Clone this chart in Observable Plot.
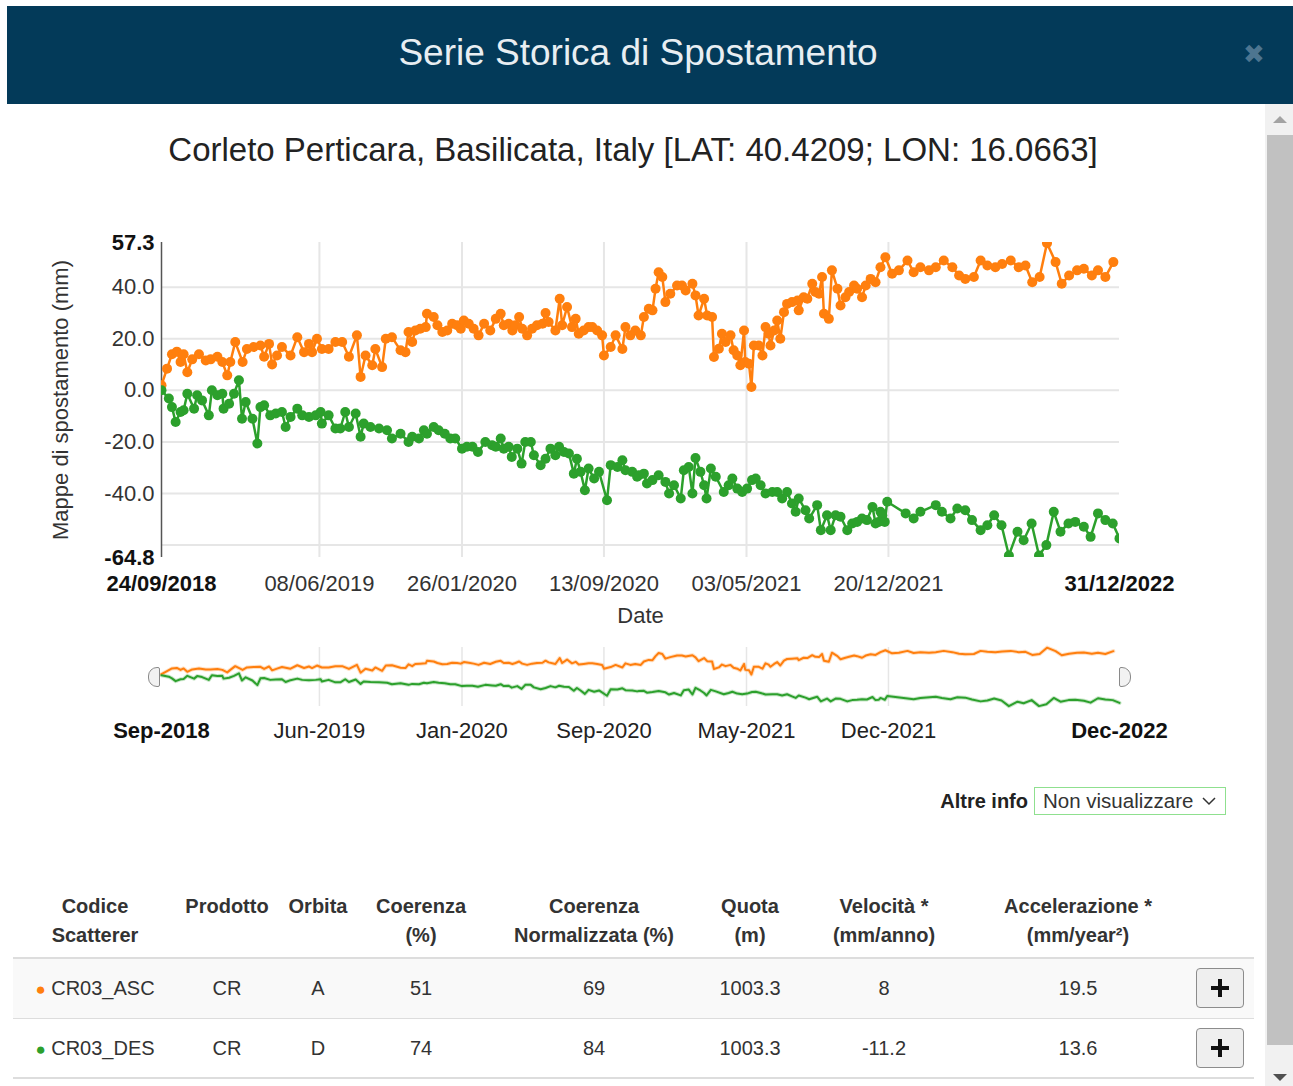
<!DOCTYPE html>
<html lang="it">
<head>
<meta charset="utf-8">
<script src="https://cdn.jsdelivr.net/npm/d3@7"></script>
<script src="https://cdn.jsdelivr.net/npm/@observablehq/plot@0.6"></script>
<style>
html,body{margin:0;padding:0;background:#fff;}
body{width:1293px;height:1086px;overflow:hidden;position:relative;font-family:"Liberation Sans",Arial,Helvetica,sans-serif;color:#333;}
.abs{position:absolute;}
#hdr{left:7px;top:6px;width:1286px;height:98px;background:#033a59;}
#hdr .t{position:absolute;left:0;top:0;width:1262px;text-align:center;line-height:94px;font-size:37px;color:#e8eef2;}
#hdr .x{position:absolute;left:1236px;top:33px;font-size:26px;color:#4d7590;font-family:"DejaVu Sans",sans-serif;}
#sub{left:0;top:128px;width:1266px;text-align:center;font-size:33px;color:#222;line-height:44px;}
#chart{left:0;top:200px;}
#nav{left:0;top:640px;}
#sbtrack{left:1265px;top:104px;width:28px;height:982px;background:#f1f1f1;}
#sbthumb{left:1267px;top:135px;width:26px;height:910px;background:#c1c1c1;}
.arrow{width:0;height:0;border-left:7px solid transparent;border-right:7px solid transparent;}
#upA{left:1273px;top:116px;border-bottom:7px solid #a3a3a3;}
#dnA{left:1273px;top:1074px;border-top:7px solid #505050;}
#altre{left:880px;top:787px;width:148px;text-align:right;font-weight:bold;font-size:20px;line-height:28px;color:#222;}
#sel{left:1034px;top:787px;width:190px;height:26px;border:1px solid #8fe08f;font-size:20.5px;line-height:26px;color:#333;}
#sel span{position:absolute;left:8px;top:0;white-space:nowrap;}
#sel svg{position:absolute;left:167px;top:9px;}
.th{font-weight:bold;font-size:20px;line-height:29px;color:#333;text-align:center;}
.td{font-size:20px;line-height:30px;color:#333;text-align:center;}
.rowbg{left:13px;width:1241px;}
.btn{left:1196px;width:46px;height:38px;border:1px solid #8c8c8c;border-radius:4px;background:#efefef;}
.btn .h{position:absolute;left:14px;top:17px;width:18px;height:4px;background:#111;}
.btn .v{position:absolute;left:21px;top:10px;width:4px;height:18px;background:#111;}
.handle{width:10px;height:18px;border:1px solid #8a8a8a;background:#f2f2f2;}
</style>
</head>
<body>
<div id="hdr" class="abs"><div class="t">Serie Storica di Spostamento</div><div class="x">✖</div></div>
<div id="sub" class="abs">Corleto Perticara, Basilicata, Italy [LAT: 40.4209; LON: 16.0663]</div>
<div id="chart" class="abs"></div>
<div id="nav" class="abs"></div>
<div id="hl" class="abs handle" style="left:148px;top:667px;border-radius:9px 2px 2px 9px;"></div>
<div id="hr" class="abs handle" style="left:1119px;top:667px;border-radius:2px 9px 9px 2px;"></div>
<div id="altre" class="abs">Altre info</div>
<div id="sel" class="abs"><span>Non visualizzare</span><svg width="14" height="9"><path d="M1 1 L7 7 L13 1" fill="none" stroke="#333" stroke-width="1.5"/></svg></div>
<div id="table"></div>
<div id="sbtrack" class="abs"></div>
<div id="sbthumb" class="abs"></div>
<div id="upA" class="abs arrow"></div>
<div id="dnA" class="abs arrow"></div>
<script>
// ---- data (days since 24/09/2018, displacement in mm) ----
const ascDays = [0,9,17,25,31,36,42,50,61,72,80,91,99,107,112,120,132,139,150,161,167,175,180,188,196,210,221,232,240,245,253,261,272,283,294,305,318,324,332,343,348,359,365,375,389,397,402,408,413,421,430,432,443,449,457,465,473,481,487,492,500,508,516,525,535,544,552,557,565,571,576,582,587,595,603,611,620,625,630,641,648,652,660,668,674,679,687,695,701,709,717,720,731,739,750,755,763,771,780,785,793,799,804,809,815,820,828,839,847,853,864,869,874,883,888,896,899,907,912,918,926,931,937,942,948,950,956,960,964,972,978,983,988,991,997,1002,1007,1013,1018,1026,1035,1037,1045,1051,1059,1064,1070,1075,1078,1086,1091,1100,1105,1113,1119,1127,1132,1140,1146,1154,1162,1170,1178,1189,1200,1214,1224,1235,1249,1260,1273,1287,1298,1308,1322,1333,1344,1357,1368,1382,1395,1406,1417,1429,1441,1455,1465,1477,1490,1501,1514,1524,1536,1549];
const ascMm = [2,8.4,14,15,11,14,7,12,14,11.6,12,13,11,5.8,11,18.7,11,16,16.8,17.4,13,18,10,13.5,16.8,13.5,20.6,14.8,18,14.8,20,16,16,18.7,18.7,13,21.3,5.2,13.5,9.7,16,9,20,20.6,15.5,14.8,22.6,18.7,23.2,23.9,24.5,29.7,28.4,25.2,22.6,23.2,25.8,25.2,23.9,27.1,25.8,23.9,21.3,25.8,23.2,27.7,29.7,25.2,25.8,23.2,25.2,28.4,23.9,21.3,23.9,25.2,25.8,30,26.5,23.2,35.5,25.2,32.3,24.5,27.7,21.9,23.2,24.5,24.5,23.2,21.3,13.5,16.8,21.3,16,24.5,21.3,23.2,21.3,28.4,31.6,31,39.4,45.8,43.9,34.2,37.4,40.6,40.6,38.7,41.3,36.8,29,35.5,29,28.4,12.9,16.1,21.9,18.7,21.3,15.5,13.5,9.7,23.2,11,10.3,1.3,17.4,17.4,13.5,24.5,21.9,17.4,23.2,27.1,20,30.3,33.5,34.2,34.8,31,36.1,35.5,41.3,38.1,37.4,43.9,29.7,27.7,46.5,39.4,32.9,36.1,38.1,40.6,39.4,36.1,40.6,43.2,41.9,47.7,51.6,45.2,46.5,50.3,45.8,47.7,46.5,47.7,50.3,47.7,44.5,43.2,43.9,50.3,48.4,47.7,49,50.3,47.7,48.4,41.9,43.9,57,49.7,41.3,44.5,46.5,47.1,44.5,46.5,43.9,49.7];
const desDays = [0,12,17,23,31,36,42,53,58,66,77,82,91,99,101,110,118,126,131,137,148,156,161,167,177,186,196,202,210,221,229,240,251,259,261,272,283,291,299,305,316,324,329,340,354,367,375,389,402,408,419,427,432,443,451,461,470,478,489,497,506,515,527,538,544,552,557,565,570,579,586,592,601,606,617,625,633,641,647,655,663,671,676,682,689,695,704,712,725,731,742,750,755,766,774,777,785,790,799,809,820,826,834,845,850,858,864,869,877,883,887,894,902,915,923,929,937,945,953,961,967,975,983,994,1002,1010,1018,1026,1032,1037,1048,1054,1067,1073,1083,1089,1097,1105,1116,1124,1132,1140,1148,1157,1162,1167,1170,1173,1177,1181,1211,1224,1235,1260,1270,1284,1295,1308,1319,1333,1344,1355,1367,1379,1393,1403,1416,1428,1440,1452,1463,1476,1487,1501,1512,1524,1536,1548,1559];
const desMm = [0,-3.2,-6.5,-12.3,-8.4,-7.7,-1.3,-7.1,-1.9,-3.9,-9.7,0,-1.9,-1.3,-7.1,-5.2,-1.3,3.9,-11,-4.5,-11,-20.6,-6.5,-5.8,-9.7,-9,-8.4,-14.2,-10.3,-7.1,-9.7,-10.3,-9.7,-8.4,-12.9,-9.7,-14.8,-14.8,-8.4,-14.2,-9,-18,-12.9,-14.2,-14.8,-15.5,-18.7,-16.8,-20,-18,-18.7,-15.5,-16.8,-14.2,-15.5,-16.8,-18.7,-18.7,-22.6,-21.9,-21.9,-23.9,-20,-21.3,-21.9,-18.7,-22.6,-21.9,-25.8,-22.6,-28.4,-20,-20,-25.2,-29,-26.5,-22.6,-25.2,-21.9,-23.9,-24.5,-32.3,-26.5,-31.6,-38.7,-30.3,-34.2,-31.6,-42.6,-29,-29.7,-27.1,-31,-31.6,-33.5,-32.9,-32.3,-36.1,-34.8,-32.9,-35.5,-40,-36.8,-41.9,-31,-29.7,-40,-26.2,-31.6,-36.8,-41.9,-30.3,-33.5,-39.4,-36.8,-34.2,-38.1,-39.4,-38.1,-34.8,-34.2,-36.8,-40,-39.4,-39.4,-41.9,-39.4,-43.9,-47.1,-41.9,-46.5,-49.7,-44.5,-54.2,-48.4,-54.2,-48.4,-49,-54.2,-51.6,-51,-49.7,-50.3,-45.2,-51.6,-51,-47.1,-48.4,-51,-43.2,-47.7,-49.7,-47.1,-44.5,-47.1,-49.7,-45.8,-46.5,-50.3,-54.2,-52.3,-48.4,-52.3,-64,-54.8,-58.1,-51.6,-64,-60,-47.1,-54.8,-51.6,-51,-52.9,-56.8,-47.7,-50.3,-51.6,-57.4];

const firstDate = "2018-09-24";
const lastDate = "2022-12-31";
const xTickDates = ["2019-06-08","2020-01-26","2020-09-13","2021-05-03","2021-12-20"];
const yMin = -64.8, yMax = 57.3;
const yTicks = [40,20,0,-20,-40];
const yGrid = [40,20,0,-20,-40,-60];

// table
const tHeaders = [["Codice","Scatterer"],["Prodotto"],["Orbita"],["Coerenza","(%)"],["Coerenza","Normalizzata (%)"],["Quota","(m)"],["Velocità *","(mm/anno)"],["Accelerazione *","(mm/year²)"]];
const codes = ["CR03_ASC","CR03_DES"];
const prodotto = ["CR","CR"];
const orbita = ["A","D"];
const coerenza = ["51","74"];
const coerNorm = ["69","84"];
const quota = ["1003.3","1003.3"];
const velocita = ["8","-11.2"];
const accel = ["19.5","13.6"];
const seriesColors = ["#ff7f0e","#2ca02c"];

// ---- build ----
const parse = s => new Date(s + "T00:00:00Z");
const start = parse(firstDate), end = parse(lastDate);
const ticks = xTickDates.map(parse);
const asc = ascDays.map((d,i)=>({date:d3.utcDay.offset(start,d), v:ascMm[i]}));
const des = desDays.map((d,i)=>({date:d3.utcDay.offset(start,d), v:desMm[i]}));
const f1 = d => d.toFixed(1);
const font = '"Liberation Sans",Arial,sans-serif';
const FS = 22;

const main = Plot.plot({
  width:1266, height:427, marginLeft:161, marginRight:147, marginTop:42, marginBottom:70,
  style:{fontFamily:font, fontSize:FS+"px", color:"#333", background:"transparent", overflow:"visible"},
  x:{type:"utc", domain:[start,end]},
  y:{domain:[yMin,yMax]},
  marks:[
    Plot.gridY(yGrid,{stroke:"#e6e6e6",strokeOpacity:1,strokeWidth:2}),
    Plot.gridX(ticks,{stroke:"#e6e6e6",strokeOpacity:1,strokeWidth:2}),
    Plot.axisY(yTicks,{tickSize:0,tickPadding:7,tickFormat:f1,label:null,fontSize:FS,fill:"#333"}),
    Plot.axisY([yMax,yMin],{tickSize:0,tickPadding:7,tickFormat:f1,label:null,fontSize:FS,fontWeight:"bold",fill:"#111"}),
    Plot.axisX(ticks,{tickSize:0,tickPadding:18,tickFormat:d3.utcFormat("%d/%m/%Y"),label:null,fontSize:FS,fill:"#333"}),
    Plot.axisX([start,end],{tickSize:0,tickPadding:18,tickFormat:d3.utcFormat("%d/%m/%Y"),label:null,fontSize:FS,fontWeight:"bold",fill:"#111"}),
    Plot.ruleX([start],{stroke:"#555",strokeWidth:1.5}),
    Plot.text(["Date"],{frameAnchor:"bottom",lineAnchor:"middle",dy:58,fontSize:FS,fill:"#333"}),
    Plot.text(["Mappe di spostamento (mm)"],{frameAnchor:"left",textAnchor:"middle",dx:-101,rotate:-90,fontSize:FS,fill:"#333"}),
    Plot.line(asc,{x:"date",y:"v",stroke:seriesColors[0],strokeWidth:2.5,clip:true}),
    Plot.dot(asc,{x:"date",y:"v",fill:seriesColors[0],r:5,clip:true}),
    Plot.line(des,{x:"date",y:"v",stroke:seriesColors[1],strokeWidth:2.5,clip:true}),
    Plot.dot(des,{x:"date",y:"v",fill:seriesColors[1],r:5,clip:true})
  ]
});
document.getElementById("chart").appendChild(main);

const nav = Plot.plot({
  width:1266, height:110, marginLeft:161, marginRight:147, marginTop:7, marginBottom:44,
  style:{fontFamily:font, fontSize:FS+"px", color:"#333", background:"transparent", overflow:"visible"},
  x:{type:"utc", domain:[start,end], axis:null},
  y:{domain:[yMin,yMax], axis:null},
  marks:[
    Plot.gridX(ticks,{stroke:"#e6e6e6",strokeOpacity:1,strokeWidth:1.5}),
    Plot.axisX(ticks,{tickSize:0,tickPadding:16,tickFormat:d3.utcFormat("%b-%Y"),label:null,fontSize:FS,fill:"#222"}),
    Plot.axisX([start,end],{tickSize:0,tickPadding:16,tickFormat:d3.utcFormat("%b-%Y"),label:null,fontSize:FS,fontWeight:"bold",fill:"#111"}),
    Plot.line(asc,{x:"date",y:"v",stroke:seriesColors[0],strokeWidth:4,strokeOpacity:0.25}),
    Plot.line(des,{x:"date",y:"v",stroke:seriesColors[1],strokeWidth:4,strokeOpacity:0.25}),
    Plot.line(asc,{x:"date",y:"v",stroke:seriesColors[0],strokeWidth:2}),
    Plot.line(des,{x:"date",y:"v",stroke:seriesColors[1],strokeWidth:2})
  ]
});
document.getElementById("nav").appendChild(nav);

// table
const tbl = document.getElementById("table");
const colCenters = [95,227,318,421,594,750,884,1078];
function cell(cls, text, cx, top, w){
  const d = document.createElement("div");
  d.className = "abs " + cls;
  d.style.left = (cx - w/2) + "px"; d.style.top = top + "px"; d.style.width = w + "px";
  d.innerHTML = text;
  tbl.appendChild(d);
  return d;
}
tHeaders.forEach((h,i)=>cell("th", h.join("<br>"), colCenters[i], 892, 200));
const lines = [[957,2],[1018,1],[1077,2]];
const bg = document.createElement("div"); bg.className="abs rowbg"; bg.style.top="959px"; bg.style.height="59px"; bg.style.background="#f9f9f9"; tbl.appendChild(bg);
lines.forEach(([y,h])=>{const l=document.createElement("div"); l.className="abs rowbg"; l.style.top=y+"px"; l.style.height=h+"px"; l.style.background="#dddddd"; tbl.appendChild(l);});
codes.forEach((c,r)=>{
  const top = 973 + r*60;
  const vals = [`<span style="color:${seriesColors[r]};font-size:17px;">●</span> ${c}`, prodotto[r], orbita[r], coerenza[r], coerNorm[r], quota[r], velocita[r], accel[r]];
  vals.forEach((v,i)=>cell("td", v, colCenters[i], top, 200));
  const b = document.createElement("div"); b.className="abs btn"; b.style.top=(968+r*60)+"px";
  b.innerHTML='<div class="h"></div><div class="v"></div>'; tbl.appendChild(b);
});
</script>
</body>
</html>
